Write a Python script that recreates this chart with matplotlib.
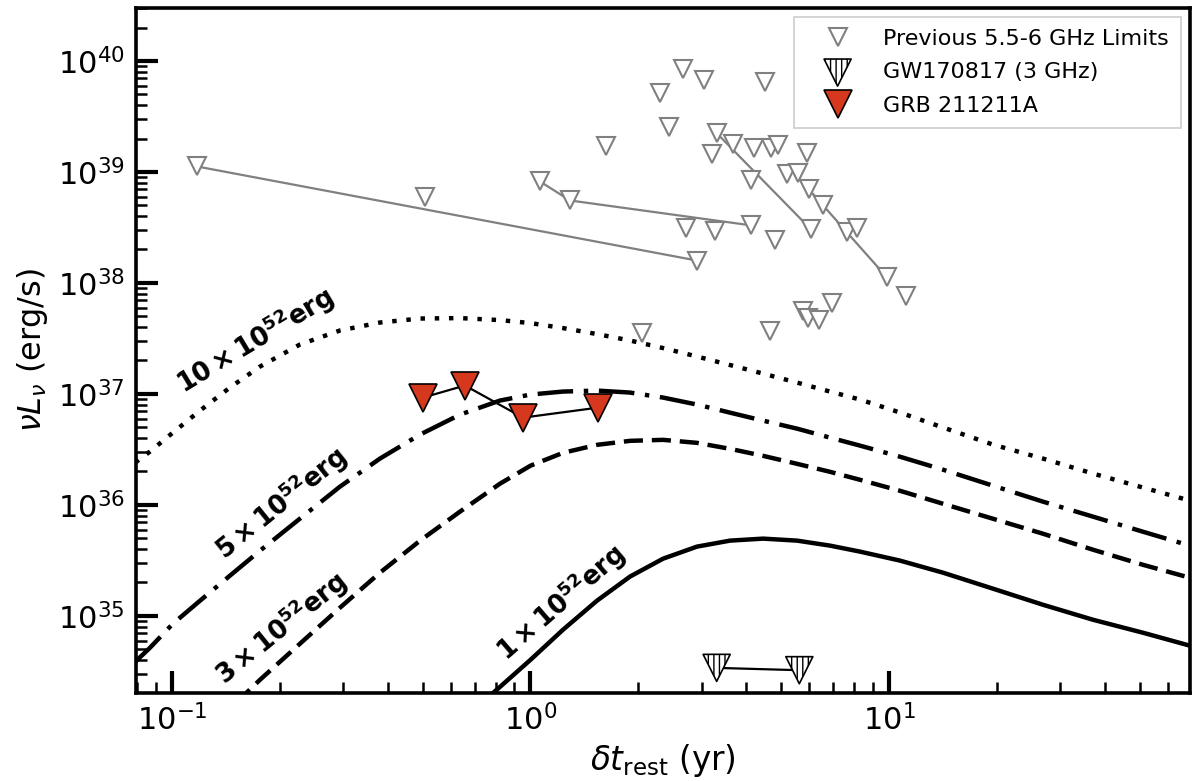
import numpy as np
import matplotlib
matplotlib.use("Agg")
import matplotlib.pyplot as plt
from matplotlib.lines import Line2D

# ---------------- data ----------------
# model light curves (x in yr, y as log10 of nuL_nu in erg/s)
t_grid = [0.079, 0.0868, 0.1006, 0.1197, 0.1451, 0.1760, 0.2275, 0.2941, 0.3803,
          0.4917, 0.6358, 0.8221, 1.0, 1.232, 1.533, 1.895, 2.342, 2.913, 3.602,
          4.453, 5.539, 6.846, 8.300, 10.73, 14.15, 19.50, 26.89, 37.07, 51.11, 69.5]

logL_10e52 = [36.381, 36.480, 36.651, 36.849, 37.057, 37.246, 37.445, 37.571, 37.643,
              37.679, 37.683, 37.665, 37.638, 37.593, 37.539, 37.481, 37.413, 37.337,
              37.260, 37.183, 37.102, 37.021, 36.949, 36.832, 36.697, 36.543, 36.417,
              36.282, 36.156, 36.036]

logL_5e52 = [34.586, 34.712, 34.929, 35.136, 35.362, 35.587, 35.876, 36.164, 36.417,
             36.633, 36.813, 36.940, 36.994, 37.021, 37.030, 37.012, 36.967, 36.904,
             36.831, 36.759, 36.687, 36.606, 36.534, 36.434, 36.317, 36.173, 36.029,
             35.894, 35.758, 35.630]

t_3e52 = [0.1509, 0.1760, 0.2275, 0.2941, 0.3803, 0.4917, 0.6358, 0.8221, 1.0, 1.232,
          1.533, 1.895, 2.342, 2.913, 3.602, 4.453, 5.539, 6.846, 8.300, 10.73, 14.15,
          19.50, 26.89, 37.07, 51.11, 69.5]
logL_3e52 = [34.216, 34.424, 34.749, 35.073, 35.389, 35.677, 35.939, 36.191, 36.353,
             36.469, 36.541, 36.577, 36.586, 36.559, 36.505, 36.442, 36.370, 36.298,
             36.226, 36.127, 36.010, 35.875, 35.740, 35.596, 35.460, 35.341]

t_1e52 = [0.742, 0.8221, 1.0, 1.232, 1.533, 1.895, 2.342, 2.913, 3.602, 4.453, 5.539,
          6.846, 8.300, 10.73, 14.15, 19.50, 26.89, 37.07, 51.11, 69.5]
logL_1e52 = [34.234, 34.360, 34.604, 34.875, 35.137, 35.354, 35.515, 35.624, 35.678,
             35.696, 35.678, 35.633, 35.579, 35.498, 35.389, 35.245, 35.100, 34.965,
             34.848, 34.729]

curve_labels = [r'$\mathbf{10\times10^{52}erg}$', r'$\mathbf{5\times10^{52}erg}$',
                r'$\mathbf{3\times10^{52}erg}$', r'$\mathbf{1\times10^{52}erg}$']
label_t = [0.1703, 0.2014, 0.2014, 1.216]
label_L = [3.03e37, 1.03e36, 7.8e34, 1.31e35]
label_rot = [31, 39, 39, 41]

# previous 5.5-6 GHz limits (isolated points)
prev_t = [0.5078, 1.624, 2.664, 3.048, 4.510, 2.297, 2.434, 3.208, 3.672, 4.202,
          4.688, 4.901, 5.906, 4.122, 5.194, 5.575, 6.544, 2.716, 3.271, 4.809,
          8.141, 11.15, 2.047, 4.658, 5.755, 5.943, 6.379, 6.934]
prev_L = [5.89e38, 1.70e39, 8.39e39, 6.68e39, 6.41e39, 5.10e39, 2.52e39, 1.44e39,
          1.77e39, 1.63e39, 1.63e39, 1.73e39, 1.47e39, 8.38e38, 9.49e38, 9.69e38,
          4.99e38, 3.10e38, 2.91e38, 2.46e38, 3.10e38, 7.69e37, 3.57e37, 3.65e37,
          5.64e37, 4.78e37, 4.68e37, 6.65e37]

# previous limits joined by lines (same source)
prev_seq_t = [[0.1174, 2.913], [1.063, 1.289, 4.122], [3.313, 6.059], [5.982, 7.636, 9.872]]
prev_seq_L = [[1.12e39, 1.59e38], [8.20e38, 5.53e38, 3.30e38], [2.22e39, 3.03e38],
              [6.95e38, 2.85e38, 1.12e38]]

# GW170817 (3 GHz)
gw_t = [3.306, 5.621]
gw_L = [3.40e34, 3.24e34]

# GRB 211211A
grb_t = [0.5012, 0.6565, 0.9530, 1.543]
grb_L = [9.26e36, 1.19e37, 6.11e36, 7.52e36]

# ---------------- figure ----------------
fig = plt.figure(figsize=(11.93, 7.81), dpi=100)
ax = fig.add_axes([0.114, 0.1127, 0.8835, 0.8771])
ax.set_xscale('log')
ax.set_yscale('log')

lw = 3.2
ax.plot(t_grid, 10 ** np.array(logL_10e52), color='k', lw=lw,
        linestyle=(0, (1.0, 2.2)), zorder=2)
ax.plot(t_grid, 10 ** np.array(logL_5e52), color='k', lw=lw,
        linestyle=(0, (8.0, 2.4, 1.0, 2.4)), zorder=2)
ax.plot(t_3e52, 10 ** np.array(logL_3e52), color='k', lw=lw,
        linestyle=(0, (4.3, 2.0)), zorder=2)
ax.plot(t_1e52, 10 ** np.array(logL_1e52), color='k', lw=lw, linestyle='-', zorder=2)

for txt, tx, ty, rot in zip(curve_labels, label_t, label_L, label_rot):
    ax.text(tx, ty, txt, rotation=rot, rotation_mode='anchor', ha='center',
            va='center', fontsize=18.5, fontweight='bold', color='k', zorder=3)

gray = '#808080'
ms_prev = 13.5
for st, sL in zip(prev_seq_t, prev_seq_L):
    ax.plot(st, sL, '-', color=gray, lw=1.6, zorder=3)
    ax.plot(st, sL, 'v', ms=ms_prev, mfc='white', mec=gray, mew=1.5, ls='none', zorder=4)
ax.plot(prev_t, prev_L, 'v', ms=ms_prev, mfc='white', mec=gray, mew=1.5, ls='none', zorder=4)

ax.plot(gw_t, gw_L, '-', color='k', lw=1.6, zorder=3)
gw_sc = ax.scatter(gw_t, gw_L, marker='v', s=19.5 ** 2, facecolor='white',
                   edgecolor='k', linewidth=1.2, hatch='|||', zorder=4)

red = '#d6381e'
ax.plot(grb_t, grb_L, '-', color='k', lw=1.6, zorder=5)
ax.plot(grb_t, grb_L, 'v', ms=19.5, mfc=red, mec='k', mew=1.2, ls='none', zorder=6)

ax.set_xlim(0.0794, 69.1)
ax.set_ylim(2.02e34, 3.0e40)

ax.set_xlabel(r'$\delta t_{\rm rest}$ (yr)', fontsize=23.5, labelpad=4)
ax.set_ylabel(r'$\nu L_\nu$ (erg/s)', fontsize=23, labelpad=6)

ax.tick_params(which='both', direction='in', top=False, right=False)
ax.tick_params(which='major', length=16, width=3, labelsize=22, pad=8)
ax.tick_params(which='minor', length=8, width=1.8)
for sp in ax.spines.values():
    sp.set_linewidth(2.6)

h_prev = Line2D([], [], marker='v', ms=ms_prev, mfc='white', mec=gray, mew=1.5, ls='none')
h_grb = Line2D([], [], marker='v', ms=19.5, mfc=red, mec='k', mew=1.2, ls='none')
leg = ax.legend([h_prev, gw_sc, h_grb],
                ['Previous 5.5-6 GHz Limits', 'GW170817 (3 GHz)', 'GRB 211211A'],
                loc='upper right', fontsize=16, fancybox=False, edgecolor='0.8',
                framealpha=1, scatterpoints=1, borderaxespad=0.4,
                borderpad=0.55, labelspacing=0.6, handlelength=2.8,
                handletextpad=0.65)
leg.get_frame().set_linewidth(1.2)

fig.savefig('out.png', dpi=100)
